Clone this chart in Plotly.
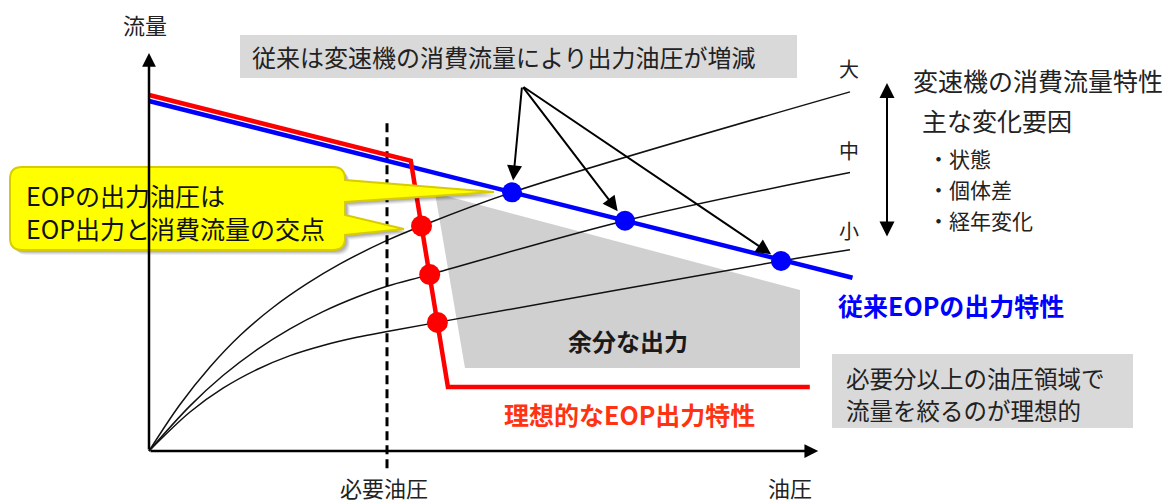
import plotly.graph_objects as go

# ---------------------------------------------------------------
# Data (pressure on x, flow on y, arbitrary units)
# ---------------------------------------------------------------
pressure_axis_end = 95.6
flow_axis_end = 113.7
required_pressure = 34.0
required_line_span = [-4.9, 95.1]

# conventional EOP output characteristic
conv_pressure = [0.0, 100.5]
conv_flow = [100.0, 49.5]
conv_dot_pressure = [51.86, 68.0, 90.29]
conv_dot_flow = [73.9, 65.8, 54.3]

# ideal EOP output characteristic
ideal_pressure = [0.0, 37.4, 42.7, 94.4]
ideal_flow = [101.7, 82.9, 18.3, 18.3]
ideal_dot_pressure = [38.93, 40.1, 41.2]
ideal_dot_flow = [64.3, 50.4, 36.75]

# transmission consumption flow characteristics (large / medium / small)
cons_large_p = [0.0, 4.43, 8.71, 13.0, 17.71, 22.57, 27.29, 34.0, 38.93, 51.86, 100.14]
cons_large_q = [0.0, 13.29, 24.0, 33.0, 41.0, 47.8, 53.46, 60.17, 64.3, 73.9, 102.6]
cons_mid_p = [0.0, 5.86, 10.57, 15.43, 20.14, 24.86, 29.71, 34.0, 40.1, 68.0, 100.14]
cons_mid_q = [0.0, 12.89, 21.57, 28.97, 34.91, 39.83, 44.0, 47.09, 50.4, 65.8, 79.57]
cons_small_p = [0.0, 5.86, 10.57, 15.43, 20.14, 24.86, 29.71, 34.0, 41.2, 90.29, 100.14]
cons_small_q = [0.0, 11.14, 17.94, 23.29, 27.26, 30.17, 32.51, 34.14, 36.75, 54.3, 57.5]

# surplus output region
excess_p = [40.86, 93.0, 93.0, 45.14]
excess_q = [73.71, 46.0, 23.71, 23.71]

# main causes of variation
variation_causes = ["・状態", "・個体差", "・経年変化"]

# note on the ideal characteristic
ideal_note = ["必要分以上の油圧領域で", "流量を絞るのが理想的"]

# ---------------------------------------------------------------
# Canvas geometry
# ---------------------------------------------------------------
W, H = 1171, 504
X0, XS = 149.0, 7.0     # canvas px of pressure 0, px per unit
Y0, YS = 451.0, 3.5     # canvas px of flow 0, px per unit


def dx(px):
    return (px - X0) / XS


def dy(py):
    return (Y0 - py) / YS


def path(points_px, closed=True):
    s = ""
    for cmd, pts in points_px:
        s += cmd + " " + " ".join(f"{dx(a):.3f},{dy(b):.3f}" for a, b in pts) + " "
    return s + ("Z" if closed else "")


FONT = "Noto Sans CJK JP, Noto Sans, sans-serif"
TXT = "#222222"
BLUE = "#0000ff"
RED = "#ff0000"

fig = go.Figure()

# surplus output region
fig.add_trace(go.Scatter(x=excess_p + [excess_p[0]], y=excess_q + [excess_q[0]],
                         mode="lines", fill="toself", fillcolor="#d0d0d0",
                         line=dict(width=0, color="#d0d0d0"), hoverinfo="skip"))

# consumption curves
for p, q in [(cons_large_p, cons_large_q), (cons_mid_p, cons_mid_q), (cons_small_p, cons_small_q)]:
    fig.add_trace(go.Scatter(x=p, y=q, mode="lines",
                             line=dict(color="#111111", width=1.5, shape="spline", smoothing=1.0),
                             hoverinfo="skip"))

# required pressure
fig.add_trace(go.Scatter(x=[required_pressure, required_pressure], y=required_line_span,
                         mode="lines", line=dict(color="#000000", width=3, dash="9px,5px"),
                         hoverinfo="skip"))

# output characteristics
fig.add_trace(go.Scatter(x=conv_pressure, y=conv_flow, mode="lines",
                         line=dict(color=BLUE, width=4.5), hoverinfo="skip"))
fig.add_trace(go.Scatter(x=ideal_pressure, y=ideal_flow, mode="lines",
                         line=dict(color=RED, width=4.5), hoverinfo="skip"))

# operating points
fig.add_trace(go.Scatter(x=conv_dot_pressure, y=conv_dot_flow, mode="markers",
                         marker=dict(color=BLUE, size=20, line=dict(width=0)), hoverinfo="skip"))
fig.add_trace(go.Scatter(x=ideal_dot_pressure, y=ideal_dot_flow, mode="markers",
                         marker=dict(color=RED, size=21, line=dict(width=0)), hoverinfo="skip"))

shapes = []
annotations = []

# grey note boxes
shapes.append(dict(type="rect", xref="x", yref="y", x0=dx(240), x1=dx(797), y0=dy(35), y1=dy(78),
                   fillcolor="#d9d9d9", line=dict(width=0), layer="below"))
shapes.append(dict(type="rect", xref="x", yref="y", x0=dx(832), x1=dx(1133), y0=dy(354), y1=dy(428),
                   fillcolor="#d9d9d9", line=dict(width=0), layer="below"))

# callout balloon
L, T, R, B, r = 10, 167, 345, 250, 12
balloon = [
    ("M", [(L + r, T)]), ("L", [(R - r, T)]), ("Q", [(R, T), (R, T + r)]),
    ("L", [(R, 180)]), ("L", [(494, 192)]), ("L", [(R, 202)]),
    ("L", [(R, 215)]), ("L", [(404, 229)]), ("L", [(R, 235)]),
    ("L", [(R, B - r)]), ("Q", [(R, B), (R - r, B)]),
    ("L", [(L + r, B)]), ("Q", [(L, B), (L, B - r)]),
    ("L", [(L, T + r)]), ("Q", [(L, T), (L + r, T)]),
]
for off, op in [(5, 0.06), (4, 0.08), (3, 0.10), (2, 0.10)]:
    shifted = [(c, [(a + off, b + off) for a, b in pts]) for c, pts in balloon]
    shapes.append(dict(type="path", xref="x", yref="y", path=path(shifted),
                       fillcolor=f"rgba(0,0,0,{op})", line=dict(width=0), layer="above"))
shapes.append(dict(type="path", xref="x", yref="y", path=path(balloon),
                   fillcolor="#ffff00", line=dict(color="#d8cc00", width=2), layer="above"))

# axes with arrowheads
annotations.append(dict(x=0, y=flow_axis_end, ax=0, ay=0, xref="x", yref="y", axref="x", ayref="y",
                        text="", showarrow=True, arrowhead=2, arrowsize=1.1, arrowwidth=2.5,
                        arrowcolor="#000000"))
annotations.append(dict(x=pressure_axis_end, y=0, ax=0, ay=0, xref="x", yref="y", axref="x", ayref="y",
                        text="", showarrow=True, arrowhead=2, arrowsize=1.1, arrowwidth=2.5,
                        arrowcolor="#000000"))

# pointers from the upper note to the conventional operating points
src_p, src_q = 53.29, 104.29
for p, q in zip(conv_dot_pressure, conv_dot_flow):
    annotations.append(dict(x=p, y=q, ax=src_p, ay=src_q, xref="x", yref="y", axref="x", ayref="y",
                            text="", showarrow=True, arrowhead=2, arrowsize=1.5, arrowwidth=2,
                            arrowcolor="#000000", standoff=12))

# variation range arrow
annotations.append(dict(x=dx(887), y=dy(83), ax=dx(887), ay=dy(238), xref="x", yref="y",
                        axref="x", ayref="y", text="", showarrow=True, arrowhead=2,
                        startarrowhead=2, arrowside="end+start", arrowsize=1.5,
                        startarrowsize=1.5, arrowwidth=2, arrowcolor="#000000"))


def label(text, px, py, size=24, color=TXT, anchor="left"):
    annotations.append(dict(x=dx(px), y=dy(py), xref="x", yref="y", text=text, showarrow=False,
                            xanchor=anchor, yanchor="middle", align="left",
                            font=dict(family=FONT, size=size, color=color)))


label("流量", 145, 24, size=22, anchor="center")
label("油圧", 790, 487, size=22, anchor="center")
label("必要油圧", 384, 487, size=22, anchor="center")

label("従来は変速機の消費流量により出力油圧が増減", 250, 56, size=24)

label("大", 849, 68, size=20, anchor="center")
label("中", 849, 150, size=20, anchor="center")
label("小", 849, 230, size=20, anchor="center")

label("変速機の消費流量特性", 911, 80, size=25)
label("主な変化要因", 920, 120, size=25)
for i, cause in enumerate(variation_causes):
    label(cause, 926, 158 + 31 * i, size=21)

label("<b>従来EOPの出力特性</b>", 836, 305, size=25, color=BLUE)
label("<b>余分な出力</b>", 628, 340, size=24, color="#1a1a1a", anchor="center")
label("<b>理想的なEOP出力特性</b>", 629, 414, size=25, color="#ff3311", anchor="center")

for i, line in enumerate(ideal_note):
    label(line, 844, 378 + 32 * i, size=23.5)

label("EOPの出力油圧は<br>EOP出力と消費流量の交点", 24, 211, size=25, color="#111111")

fig.update_layout(
    width=W, height=H,
    margin=dict(l=0, r=0, t=0, b=0),
    paper_bgcolor="white", plot_bgcolor="white",
    showlegend=False,
    xaxis=dict(range=[dx(0), dx(W)], visible=False, fixedrange=True),
    yaxis=dict(range=[dy(H), dy(0)], visible=False, fixedrange=True),
    shapes=shapes, annotations=annotations,
)

fig.write_html("out.html")
